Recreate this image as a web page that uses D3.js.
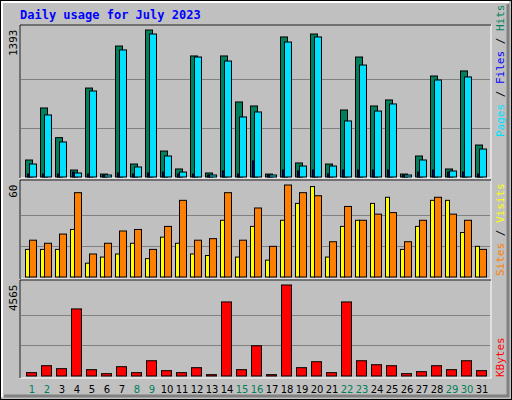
<!DOCTYPE html>
<html><head><meta charset="utf-8">
<script src="https://cdn.jsdelivr.net/npm/d3@7"></script>
<style>body{margin:0;background:#fff}</style>
</head><body><div id="chart"></div>
<script>
const days = d3.range(1, 32);
const weekend = [1,2,8,9,15,16,22,23,29,30];
const hits  = [161,654,373,66,843,28,1241,123,1393,246,76,1147,38,1147,711,673,28,1327,133,1355,123,635,1137,673,730,28,199,957,76,1005,303];
const files = [123,588,332,38,815,19,1204,95,1355,199,47,1137,19,1099,569,616,19,1279,104,1327,104,531,1061,625,692,19,161,919,57,948,265];
const pages = [28,28,28,47,28,19,38,28,38,47,28,28,19,57,28,152,19,66,57,66,28,66,66,66,66,19,47,66,47,47,28];
const visits = [18,18,18,31,9,13,15,22,12,26,22,15,14,37,13,33,11,37,48,59,13,33,37,48,52,18,33,50,50,29,20];
const sites  = [24,22,28,55,15,22,30,31,18,33,50,24,25,55,24,45,20,60,55,53,23,46,37,41,42,23,37,52,41,37,18];
const kbytes = [167,516,367,3365,317,117,466,167,766,267,167,417,67,3715,317,1516,67,4565,417,716,167,3715,766,566,516,117,217,516,317,766,267];

const W = 512, H = 400;
const svg = d3.select('#chart').append('svg').attr('width', W).attr('height', H);
svg.append('rect').attr('width', W).attr('height', H).attr('fill', '#c0c0c0');
// outer 3D frame
svg.append('rect').attr('x', 0.5).attr('y', 0.5).attr('width', W-1).attr('height', H-1).attr('fill', 'none').attr('stroke', '#000');
svg.append('path').attr('d', 'M2,397V2H509').attr('stroke', '#fff').attr('stroke-width', 2).attr('fill', 'none');
svg.append('path').attr('d', 'M4,396H508V4').attr('stroke', '#808080').attr('stroke-width', 3).attr('fill', 'none');

svg.append('text').attr('x', 20).attr('y', 19).text('Daily usage for July 2023')
  .attr('font-family', 'DejaVu Sans Mono').attr('font-weight', 'bold').attr('font-size', 12).attr('fill', '#0000ff');

const x = d3.scaleBand().domain(days).range([20, 485]);
const L = 20, R = 491;

function panel(y0, y1, base, top, max) {
  svg.append('rect').attr('x', L).attr('y', y0).attr('width', R-L).attr('height', y1-y0)
    .attr('fill', '#c0c0c0').attr('stroke', '#fff');
  svg.append('path').attr('d', `M${L},${y1}V${y0}H${R}`).attr('stroke', '#000').attr('fill', 'none');
  const y = d3.scaleLinear().domain([0, max]).range([base, top]);
  [1/3, 2/3].forEach(f => {
    const gy = Math.round(y(max*f)) + 0.5;
    svg.append('line').attr('x1', L+1).attr('x2', R-1).attr('y1', gy).attr('y2', gy).attr('stroke', '#808080');
  });
  svg.append('text').attr('transform', `translate(17,${top}) rotate(-90)`).attr('text-anchor', 'end')
    .attr('font-family', 'DejaVu Sans Mono').attr('font-size', 11).attr('fill', '#000').text(max);
  return y;
}

function bars(data, y, dx, w, fill) {
  svg.append('g').selectAll('rect').data(data).enter().append('rect')
    .attr('x', (d, i) => x(days[i]) + dx + 0.5).attr('width', w)
    .attr('y', d => y(d) + 0.5).attr('height', d => Math.max(0, y(0) - y(d)))
    .attr('fill', fill).attr('stroke', '#000');
}

const y1 = panel(25, 178, 176.5, 29.5, 1393);
bars(hits, y1, 5, 7, '#00805c');
bars(files, y1, 9, 7, '#00e0ff');
bars(pages, y1, 7, 1.5, '#0000ff');

const y2 = panel(180, 279, 276.5, 184.5, 60);
bars(visits, y2, 5, 4, '#ffff00');
bars(sites, y2, 9, 7, '#ff8000');

const y3 = panel(280, 378, 375.5, 284.5, 4565);
bars(kbytes, y3, 6, 10, '#ff0000');

svg.append('g').selectAll('text').data(days).enter().append('text')
  .attr('x', d => x(d) + 12).attr('y', 393).attr('text-anchor', 'middle')
  .attr('font-family', 'DejaVu Sans').attr('font-size', 10)
  .attr('fill', d => weekend.includes(d) ? '#00805c' : '#000').text(d => d);

function rightLabel(yEnd, parts) {
  const t = svg.append('text').attr('transform', `translate(504,${yEnd}) rotate(-90)`)
    .attr('font-family', 'DejaVu Sans Mono').attr('font-size', 11);
  parts.forEach(p => t.append('tspan').attr('fill', p[1]).text(p[0]));
}
rightLabel(137, [['Pages', '#00e0ff'], [' / ', '#000'], ['Files', '#0000ff'], [' / ', '#000'], ['Hits', '#00805c']]);
rightLabel(276, [['Sites', '#ff8000'], [' / ', '#000'], ['Visits', '#ffff00']]);
rightLabel(377, [['KBytes', '#ff0000']]);
</script></body></html>
